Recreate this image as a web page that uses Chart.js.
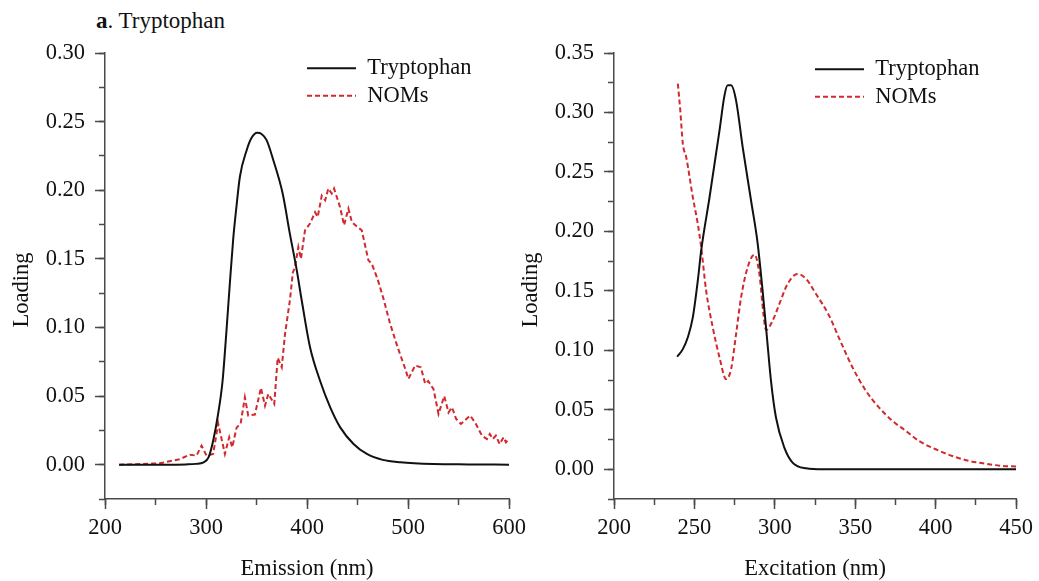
<!DOCTYPE html>
<html><head><meta charset="utf-8">
<script src="https://cdn.jsdelivr.net/npm/chart.js@4.4.1/dist/chart.umd.min.js"></script>
<style>
html,body{margin:0;padding:0;background:#fff;}
#wrap{position:relative;width:1039px;height:581px;overflow:hidden;background:#fff;}
canvas{position:absolute;left:0;top:0;}
#title{position:absolute;left:96px;top:9px;font-family:"Liberation Serif","Times New Roman",serif;font-size:23px;line-height:23px;color:#111;white-space:nowrap;}
</style></head><body>
<div id="wrap">
<div id="title"><b>a</b>. Tryptophan</div>
<canvas id="c1" width="1039" height="581" style="width:1039px;height:581px"></canvas>
<canvas id="c2" width="1039" height="581" style="width:1039px;height:581px"></canvas>
</div>
<script>
// ---- Data ----
const seriesNames = ['Tryptophan', 'NOMs'];
const yTitle = 'Loading';
const xTitles = ['Emission (nm)', 'Excitation (nm)'];

// Emission loadings
const emX_trp = [214, 260, 280, 290, 297.6, 302.5, 307.1, 312, 316.4, 320.3, 323.6, 327, 330, 333.6, 340.2, 345, 350.7, 355, 360, 366.6, 375.9, 383.1, 389.8, 394.7, 403, 413, 423, 432.9, 446.1, 459.3, 475, 492.3, 525, 560, 600];
const emY_trp = [0, 0, 0.0002, 0.0006, 0.0017, 0.0053, 0.0175, 0.037, 0.061, 0.098, 0.132, 0.165, 0.187, 0.21, 0.229, 0.238, 0.2418, 0.241, 0.2365, 0.222, 0.1976, 0.168, 0.142, 0.12, 0.0856, 0.061, 0.0418, 0.0272, 0.0151, 0.0078, 0.0035, 0.0018, 0.0005, 0.0002, 0];

const emX_nom = [214, 254, 274, 284, 290.6, 295.6, 300.5, 307.1, 312.1, 318.7, 323, 326, 330.3, 334.3, 338.5, 341.8, 348.4, 354.4, 358.4, 361.7, 367.6, 371, 375, 378.2, 383.1, 386, 388.1, 391.4, 394, 398, 403, 408, 410.6, 414.6, 418, 421.1, 424.5, 426.8, 432.7, 436.7, 441, 444.4, 449.9, 454.2, 460.8, 464.1, 470, 475.7, 482.3, 490, 497.2, 500.4, 507.1, 512.7, 517, 520, 525.3, 530.2, 535.9, 540.1, 543.5, 547.7, 552.4, 561.6, 567, 573.2, 578.2, 581, 584, 587, 590.7, 594.6, 597, 600];
const emY_nom = [0, 0.001, 0.004, 0.0073, 0.0066, 0.0139, 0.0066, 0.0078, 0.030, 0.0078, 0.020, 0.0127, 0.027, 0.030, 0.049, 0.0358, 0.0365, 0.056, 0.043, 0.0516, 0.0443, 0.0779, 0.071, 0.095, 0.12, 0.14, 0.144, 0.1586, 0.150, 0.1708, 0.1757, 0.184, 0.1805, 0.196, 0.1927, 0.2012, 0.1976, 0.2012, 0.1878, 0.1745, 0.1866, 0.1769, 0.1732, 0.1708, 0.1489, 0.1465, 0.135, 0.121, 0.1027, 0.085, 0.07, 0.0625, 0.0723, 0.071, 0.059, 0.061, 0.055, 0.037, 0.050, 0.038, 0.0418, 0.0333, 0.0297, 0.0358, 0.030, 0.0212, 0.0187, 0.0224, 0.0187, 0.0212, 0.0151, 0.020, 0.0163, 0.019];

// Excitation loadings
const exX_trp = [239.3, 242.8, 245.9, 249, 252.1, 254.2, 259.4, 265.6, 268.7, 270.7, 272.8, 275.9, 280, 285.2, 289.3, 292.4, 294.9, 297.6, 300.7, 305.9, 311, 319.4, 330, 450];
const exY_trp = [0.0946, 0.101, 0.111, 0.1277, 0.1586, 0.1838, 0.2287, 0.2849, 0.3144, 0.3228, 0.3228, 0.31, 0.2708, 0.226, 0.19, 0.150, 0.1137, 0.0744, 0.0435, 0.0182, 0.0056, 0.0008, 0, 0];

const exX_nom = [239.7, 241.2, 242.8, 244.9, 249, 252.1, 254.2, 257.3, 261.4, 265.6, 269.7, 272.8, 275.9, 279, 283.1, 287.3, 290.4, 292.9, 294.5, 298.6, 302.8, 307.9, 314.1, 319.4, 325.6, 333.8, 340, 348.3, 356.6, 364.8, 373.1, 381.4, 389.6, 400, 410.3, 420.7, 431, 441.3, 450];
const exY_nom = [0.3242, 0.3018, 0.2737, 0.2624, 0.2287, 0.2063, 0.1866, 0.150, 0.1193, 0.094, 0.0758, 0.0842, 0.1137, 0.1445, 0.1698, 0.1805, 0.1642, 0.1305, 0.117, 0.1249, 0.139, 0.1558, 0.1642, 0.16, 0.1474, 0.129, 0.11, 0.0856, 0.066, 0.0519, 0.0407, 0.0323, 0.0238, 0.0168, 0.0112, 0.007, 0.0047, 0.0028, 0.0024];

// ---- Styling ----
const FONT = '"Liberation Serif", "Times New Roman", serif';
const FS = 22.5;
const AXIS = '#4a4a4a';
const TXT = '#111';
const BLACK = '#111';
const RED = '#d12a2e';

function pts(xs, ys) { return xs.map((x, i) => ({ x: x, y: ys[i] })); }

function makeChart(canvasId, cfg) {
  const datasets = [
    { label: seriesNames[0], data: pts(cfg.xTrp, cfg.yTrp), borderColor: BLACK, borderWidth: 2,
      pointRadius: 0, tension: 0, cubicInterpolationMode: 'monotone', fill: false },
    { label: seriesNames[1], data: pts(cfg.xNom, cfg.yNom), borderColor: RED, borderWidth: 2, borderDash: [5, 3],
      pointRadius: 0, tension: 0, cubicInterpolationMode: cfg.nomSmooth ? 'monotone' : 'default', fill: false }
  ];
  const majorX = { type: 'linear', position: 'bottom', weight: 1, min: cfg.xMin, max: cfg.xMax,
    afterFit: s => { s.height = 82; },
    border: { display: true, color: AXIS, width: 1.5 },
    grid: { display: true, drawOnChartArea: false, drawTicks: true, tickLength: 10, tickColor: AXIS, tickWidth: 1.5 },
    ticks: { stepSize: cfg.xMajor, padding: 6, color: TXT, font: { family: FONT, size: FS }, maxRotation: 0,
      callback: v => String(Math.round(v)) },
    title: { display: true, text: cfg.xTitle, color: TXT, font: { family: FONT, size: FS, lineHeight: 1.04 }, padding: { top: 0, bottom: 0 } }
  };
  const minorX = { type: 'linear', position: 'bottom', weight: 0, min: cfg.xMin, max: cfg.xMax,
    afterFit: s => { s.height = 0; },
    border: { display: false },
    grid: { display: true, drawOnChartArea: false, drawTicks: true, tickLength: 6, tickColor: AXIS, tickWidth: 1.5 },
    ticks: { display: false, stepSize: cfg.xMinor, callback: () => '' }
  };
  const majorY = { type: 'linear', position: 'left', weight: 1, min: -0.025, max: cfg.yMax,
    afterFit: s => { s.width = 105; },
    border: { display: true, color: AXIS, width: 1.5 },
    grid: { display: true, drawOnChartArea: false, drawTicks: true, tickLength: 10, tickColor: AXIS, tickWidth: 1.5 },
    ticks: { stepSize: 0.05, padding: 10, color: TXT, font: { family: FONT, size: FS },
      callback: v => (v < -1e-9 ? null : v.toFixed(2)) },
    title: { display: true, text: yTitle + '     ', color: TXT, font: { family: FONT, size: FS, lineHeight: 1.04 }, padding: { top: 10, bottom: 0 } }
  };
  const minorY = { type: 'linear', position: 'left', weight: 0, min: -0.025, max: cfg.yMax,
    afterFit: s => { s.width = 0; },
    border: { display: false },
    grid: { display: true, drawOnChartArea: false, drawTicks: true, tickLength: 6, tickColor: AXIS, tickWidth: 1.5 },
    ticks: { display: false, stepSize: 0.025, callback: () => '' }
  };
  return new Chart(document.getElementById(canvasId), {
    type: 'line',
    data: { datasets: datasets },
    options: {
      responsive: false, animation: false, devicePixelRatio: 1,
      layout: { padding: { left: cfg.padL, right: cfg.padR, top: 53, bottom: 0 } },
      scales: { x: majorX, xm: minorX, y: majorY, ym: minorY },
      plugins: {
        tooltip: { enabled: false },
        title: { display: false },
        legend: {
          display: true, position: 'chartArea', align: 'start',
          labels: {
            usePointStyle: true, pointStyle: 'line', pointStyleWidth: 49, padding: 5,
            color: TXT, font: { family: FONT, size: FS },
            generateLabels: chart => {
              const items = Chart.defaults.plugins.legend.labels.generateLabels(chart);
              items.forEach(it => {
                const ds = chart.data.datasets[it.datasetIndex];
                it.lineWidth = ds.borderWidth; it.lineDash = ds.borderDash || [];
                it.strokeStyle = ds.borderColor; it.pointStyle = 'line';
              });
              return items;
            }
          }
        }
      }
    },
    plugins: [{
      id: 'legendPlace',
      afterLayout(chart) {
        const lg = chart.legend;
        if (lg) { lg.left = cfg.legX; lg.top = cfg.legY; lg.bottom = 560; lg.right = cfg.legX + 300; }
      }
    }]
  });
}

makeChart('c1', { xTrp: emX_trp, yTrp: emY_trp, xNom: emX_nom, yNom: emY_nom, nomSmooth: false,
  xMin: 200, xMax: 600, xMajor: 100, xMinor: 50, yMax: 0.30, xTitle: xTitles[0],
  padL: 0, padR: 530, legX: 302, legY: 52 });
makeChart('c2', { xTrp: exX_trp, yTrp: exY_trp, xNom: exX_nom, yNom: exY_nom, nomSmooth: true,
  xMin: 200, xMax: 450, xMajor: 50, xMinor: 25, yMax: 0.35, xTitle: xTitles[1],
  padL: 509, padR: 22, legX: 810, legY: 53 });
</script>
</body></html>
